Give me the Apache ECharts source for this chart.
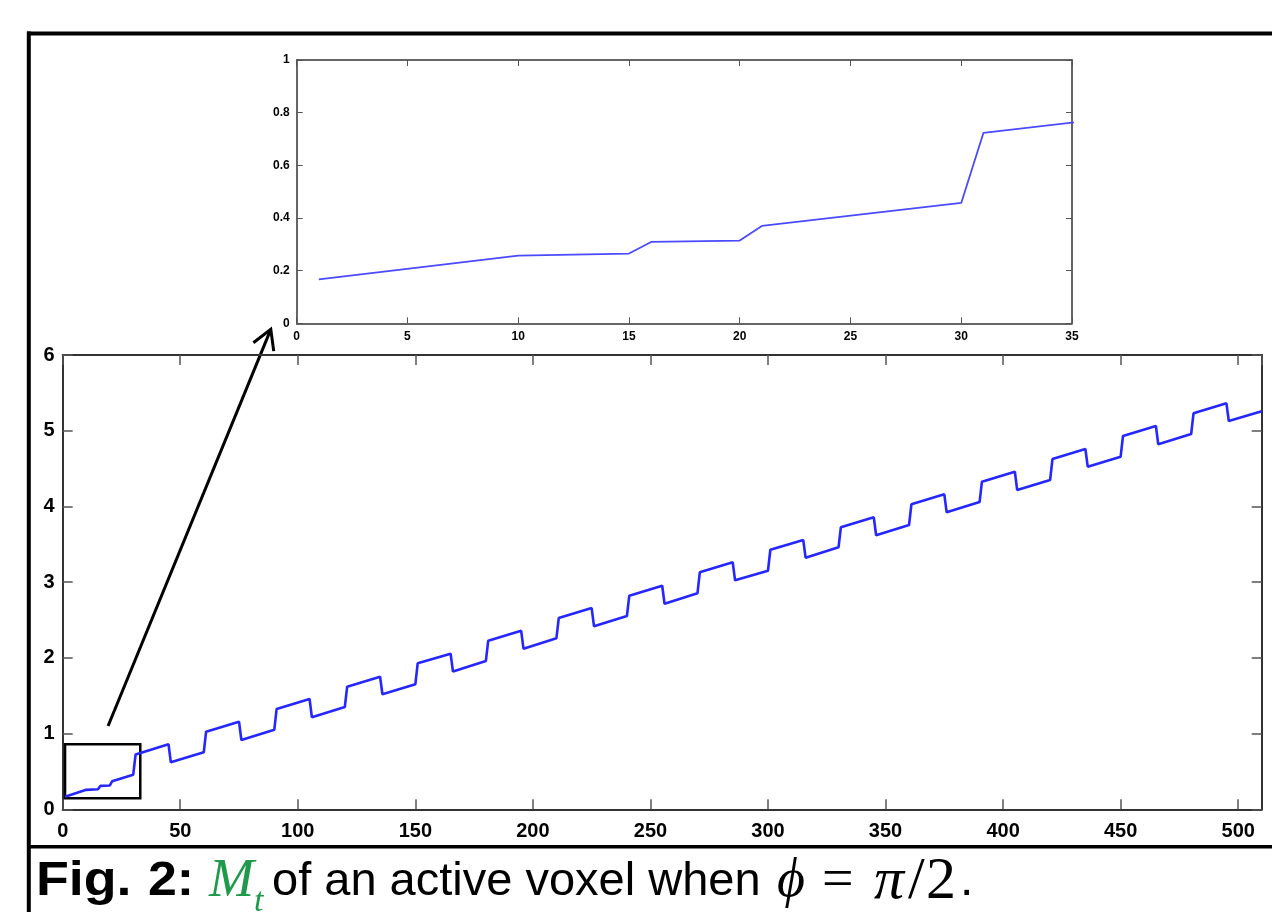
<!DOCTYPE html>
<html><head><meta charset="utf-8">
<script src="https://cdn.jsdelivr.net/npm/echarts@6/dist/echarts.min.js"></script>
<style>html,body{margin:0;padding:0;background:#fff}#c{width:1272px;height:912px}</style>
</head><body><div id="c"></div>
<script>
// Vertices of M_t (time step, value)
const vertexX = [1,10,15,16,20,21,30,
  31,45,46,60, 61,75,76,90, 91,105,106,120, 121,135,136,150,
  151,165,166,180, 181,195,196,210, 211,225,226,240, 241,255,256,270,
  271,285,286,300, 301,315,316,330, 331,345,346,360, 361,375,376,390,
  391,405,406,420, 421,435,436,450, 451,465,466,480, 481,495,496,510];
const vertexY = [0.167,0.257,0.265,0.309,0.314,0.37,0.457,
  0.723,0.86,0.62,0.753, 1.025,1.157,0.915,1.05, 1.325,1.457,1.215,1.351, 1.62,1.751,1.519,1.651,
  1.928,2.055,1.82,1.96, 2.227,2.359,2.121,2.258, 2.526,2.658,2.417,2.553, 2.821,2.953,2.715,2.852,
  3.13,3.262,3.024,3.151, 3.428,3.556,3.323,3.46, 3.724,3.856,3.619,3.755, 4.028,4.16,3.922,4.058,
  4.327,4.459,4.217,4.349, 4.626,4.758,4.525,4.657, 4.93,5.062,4.82,4.956, 5.23,5.362,5.128,5.256];
// main axis extents
const mainX = {min: 0, max: 510, interval: 50};
const mainY = {min: 0, max: 6, interval: 1};
// inset axis extents
const insetX = {min: 0, max: 35, interval: 5};
const insetY = {min: 0, max: 1, interval: 0.2};
// zoom box in main coords: [x0, y0, x1, y1]
const zoomBox = [1, 0.145, 33, 0.86];
// arrow: tail in main coords, tip in inset coords
const arrowTail = [19.3, 1.1];
const arrowTip = [-1.17, -0.023];

const data = vertexX.map((x, i) => [x, vertexY[i]]);
const insetData = data.filter(d => d[0] <= 45);

const chart = echarts.init(document.getElementById('c'), null, {renderer: 'canvas'});

function mkAxis(ext, opts) {
  return Object.assign({
    type: 'value', min: ext.min, max: ext.max, interval: ext.interval,
    splitLine: {show: false},
    axisLine: {show: true, onZero: false, lineStyle: {color: '#333', width: opts.lw}},
    axisTick: {show: true, inside: true, length: opts.tick, lineStyle: {color: '#555', width: opts.tw}},
    axisLabel: {show: opts.label, color: '#000', fontFamily: 'Liberation Sans', fontWeight: 'bold',
      fontSize: opts.fs, margin: opts.margin, showMaxLabel: opts.showMax !== false,
      hideOverlap: false},
  }, opts.extra);
}

chart.setOption({
  animation: false,
  backgroundColor: '#fff',
  grid: [
    {left: 62.7, top: 355, width: 1199, height: 454.3, containLabel: false, outerBoundsMode: 'none'},
    {left: 296.7, top: 60, width: 775.3, height: 263.3, containLabel: false, outerBoundsMode: 'none'}
  ],
  xAxis: [
    mkAxis(mainX, {lw: 2, tick: 10, tw: 1.5, label: true, fs: 20, margin: 12, showMax: false, extra: {gridIndex: 0, position: 'bottom'}}),
    mkAxis(mainX, {lw: 2, tick: 10, tw: 1.5, label: false, fs: 20, margin: 12, extra: {gridIndex: 0, position: 'top'}}),
    mkAxis(insetX, {lw: 1.5, tick: 6, tw: 1, label: true, fs: 12, margin: 7, extra: {gridIndex: 1, position: 'bottom'}}),
    mkAxis(insetX, {lw: 1.5, tick: 6, tw: 1, label: false, fs: 12, margin: 7, extra: {gridIndex: 1, position: 'top'}})
  ],
  yAxis: [
    mkAxis(mainY, {lw: 2, tick: 10, tw: 1.5, label: true, fs: 20, margin: 8, extra: {gridIndex: 0, position: 'left'}}),
    mkAxis(mainY, {lw: 2, tick: 10, tw: 1.5, label: false, fs: 20, margin: 8, extra: {gridIndex: 0, position: 'right'}}),
    mkAxis(insetY, {lw: 1.5, tick: 6, tw: 1, label: true, fs: 12, margin: 7, extra: {gridIndex: 1, position: 'left'}}),
    mkAxis(insetY, {lw: 1.5, tick: 6, tw: 1, label: false, fs: 12, margin: 7, extra: {gridIndex: 1, position: 'right'}})
  ],
  series: [
    {
      type: 'line', xAxisIndex: 0, yAxisIndex: 0, data: data, symbol: 'none', showSymbol: false,
      lineStyle: {color: '#2626ff', width: 2.6}, clip: true, z: 3,
      markArea: {
        silent: true, label: {show: false},
        itemStyle: {color: 'rgba(0,0,0,0)', borderColor: '#000', borderWidth: 2.5},
        data: [[{coord: [zoomBox[0], zoomBox[1]]}, {coord: [zoomBox[2], zoomBox[3]]}]]
      }
    },
    {
      type: 'line', xAxisIndex: 2, yAxisIndex: 2, data: insetData, symbol: 'none', showSymbol: false,
      lineStyle: {color: '#4a4aff', width: 1.8}, clip: true
    }
  ]
});

const tail = chart.convertToPixel({xAxisIndex: 0, yAxisIndex: 0}, arrowTail);
const tip = chart.convertToPixel({xAxisIndex: 2, yAxisIndex: 2}, arrowTip);
const ang = Math.atan2(tail[1] - tip[1], tail[0] - tip[0]);
const armLen = 22, armAng = 30 * Math.PI / 180;
const a1 = [tip[0] + armLen * Math.cos(ang + armAng), tip[1] + armLen * Math.sin(ang + armAng)];
const a2 = [tip[0] + armLen * Math.cos(ang - armAng), tip[1] + armLen * Math.sin(ang - armAng)];

const capY = 882;
function capText(txt, x, y, font, fill, sx) {
  return {type: 'text', silent: true, x: x, y: y, scaleX: sx || 1,
    style: {text: txt, font: font, fill: fill || '#000', verticalAlign: 'middle'}};
}
chart.setOption({
  graphic: [
    {type: 'line', silent: true, shape: {x1: 27, y1: 33.5, x2: 1272, y2: 33.5}, style: {stroke: '#000', lineWidth: 4}},
    {type: 'line', silent: true, shape: {x1: 28.8, y1: 31.5, x2: 28.8, y2: 912}, style: {stroke: '#000', lineWidth: 4}},
    {type: 'line', silent: true, shape: {x1: 27, y1: 846.7, x2: 1272, y2: 846.7}, style: {stroke: '#000', lineWidth: 3.5}},
    {type: 'line', silent: true, shape: {x1: tail[0], y1: tail[1], x2: tip[0], y2: tip[1]}, style: {stroke: '#000', lineWidth: 3}},
    {type: 'polyline', silent: true, shape: {points: [a1, tip, a2]}, style: {stroke: '#000', lineWidth: 3, fill: null}},
    capText('Fig.', 36, capY, 'bold 48px "Liberation Sans"', '#000', 1.12),
    capText('2:', 148, capY, 'bold 48px "Liberation Sans"', '#000', 1.08),
    capText('M', 209, capY, 'italic 54px "Liberation Serif"', '#1f9a4b'),
    capText('t', 254, capY + 20, 'italic 34px "Liberation Serif"', '#1f9a4b'),
    capText('of an active voxel when', 272, capY, '47px "Liberation Sans"', '#000', 1.0),
    capText('ϕ', 777, capY, 'italic 54px "Liberation Serif"'),
    capText('=', 822, capY, '56px "Liberation Serif"'),
    capText('π', 874, capY, 'italic 60px "Liberation Serif"'),
    capText('/', 908, capY, '60px "Liberation Serif"'),
    capText('2', 926, capY, '60px "Liberation Serif"'),
    capText('.', 960, capY, '48px "Liberation Sans"')
  ]
});
</script>
</body></html>
